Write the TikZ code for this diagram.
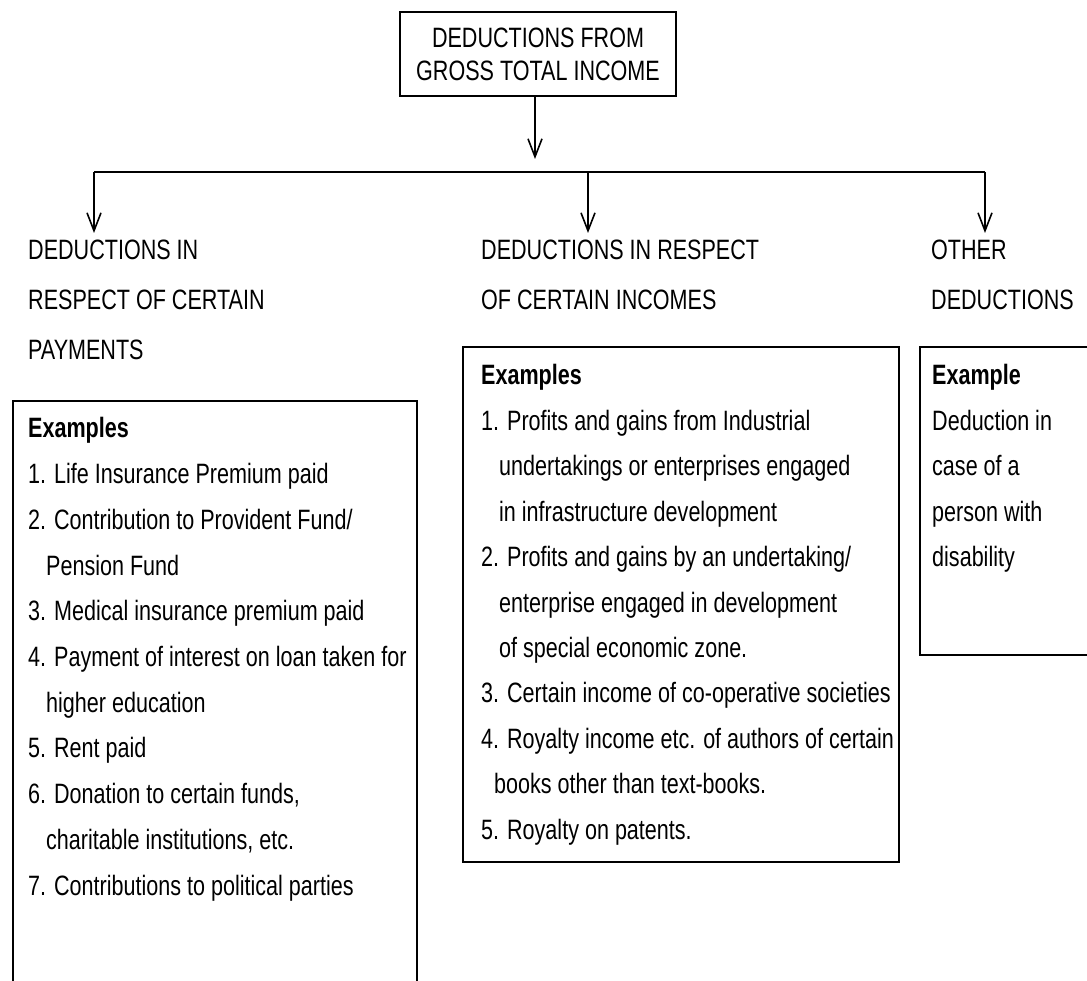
\documentclass[tikz,border=0pt]{standalone}
\usepackage{fontspec}
\setmainfont{Liberation Sans}[FakeStretch=0.77]
\usetikzlibrary{arrows.meta}
\tikzset{
  txt/.style={anchor=base west, inner sep=0pt, font=\fontsize{28}{28}\selectfont},
  box/.style={line width=1.6pt},
  conn/.style={line width=1.6pt, -{Straight Barb[length=18pt,width=14pt,line width=1.6pt]}},
}
\begin{document}
\begin{tikzpicture}[x=1pt,y=-1pt]
\clip (0,0) rectangle (1087,981);
% top box
\node[draw, box, minimum width=276pt, minimum height=84pt, align=center, inner sep=0pt,
      font=\fontsize{28}{33}\selectfont] (T) at (538,54) {DEDUCTIONS FROM\\GROSS TOTAL INCOME};
\coordinate (Tend) at (535,159);
\coordinate (barL) at (94,172);
\coordinate (barM) at (588,172);
\coordinate (barR) at (985,172);
\coordinate (eL) at (94,233);
\coordinate (eM) at (588,233);
\coordinate (eR) at (985,233);
\draw[conn] (T.south -| Tend) -- (Tend);
\draw[box] (barL) -- (barR);
\draw[conn] (barL) -- (eL);
\draw[conn] (barM) -- (eM);
\draw[conn] (barR) -- (eR);
% headers
\node[txt] (hL1) at (28,260) {DEDUCTIONS IN};
\node[txt] (hL2) at (28,310) {RESPECT OF CERTAIN};
\node[txt] (hL3) at (28,360) {PAYMENTS};
\node[txt] (hM1) at (481,260) {DEDUCTIONS IN RESPECT};
\node[txt] (hM2) at (481,310) {OF CERTAIN INCOMES};
\node[txt] (hR1) at (931,260) {OTHER};
\node[txt] (hR2) at (931,310) {DEDUCTIONS};
% boxes
\draw[box] (13,401) rectangle (417,1000);
\draw[box] (463,347) rectangle (899,862);
\draw[box] (920,347) rectangle (1100,655);
% left contents
\foreach \t [count=\i] in {\textbf{Examples},
  1. Life Insurance Premium paid,
  2. Contribution to Provident Fund/,
  \hspace*{18pt}Pension Fund,
  3. Medical insurance premium paid,
  4. Payment of interest on loan taken for,
  \hspace*{18pt}higher education,
  5. Rent paid,
  {6. Donation to certain funds,},
  \hspace*{18pt}{charitable institutions, etc.},
  7. Contributions to political parties}
  \node[txt] (L\i) at (28,{438+(\i-1)*45.7}) {\t};
% middle contents
\foreach \t [count=\i] in {\textbf{Examples},
  1. Profits and gains from Industrial,
  \hspace*{18pt}undertakings or enterprises engaged,
  \hspace*{18pt}in infrastructure development,
  2. Profits and gains by an undertaking/,
  \hspace*{18pt}enterprise engaged in development,
  \hspace*{18pt}of special economic zone.,
  3. Certain income of co-operative societies,
  4. Royalty income etc. of authors of certain,
  \hspace*{13pt}books other than text-books.,
  5. Royalty on patents.}
  \node[txt] (M\i) at (481,{385+(\i-1)*45.4}) {\t};
% right contents
\foreach \t [count=\i] in {\textbf{Example},
  Deduction in,
  case of a,
  person with,
  disability}
  \node[txt] (R\i) at (932,{385+(\i-1)*45.4}) {\t};
\end{tikzpicture}
\end{document}
